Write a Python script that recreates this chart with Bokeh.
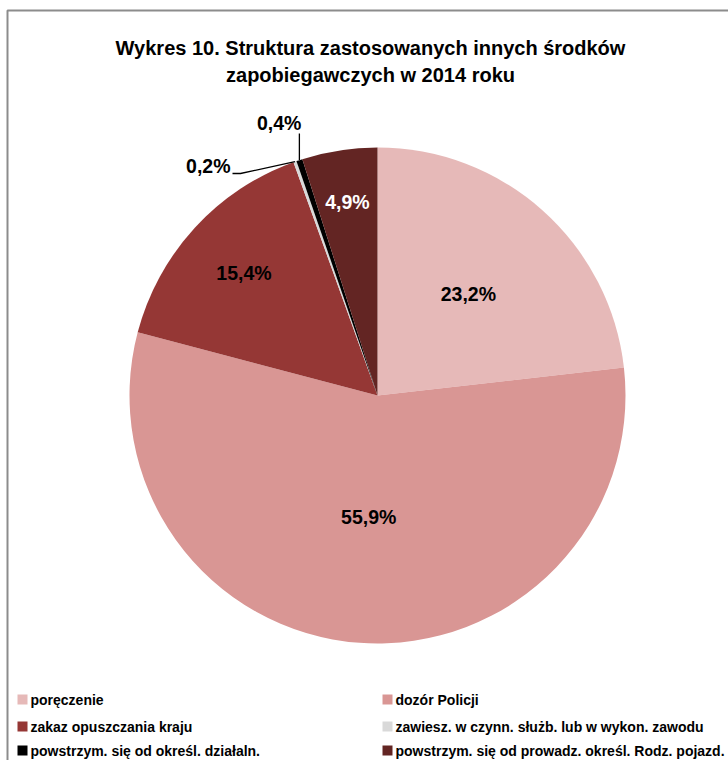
import math
from bokeh.plotting import figure
from bokeh.models import Range1d
from bokeh.core.properties import value
from bokeh.embed import file_html
from bokeh.resources import INLINE

# ---- data ----
categories = [
    "poręczenie",
    "dozór Policji",
    "zakaz opuszczania kraju",
    "zawiesz. w czynn. służb. lub w wykon. zawodu",
    "powstrzym. się od określ. działaln.",
    "powstrzym. się od prowadz. określ. Rodz. pojazd.",
]
shares = [23.2, 55.9, 15.4, 0.2, 0.4, 4.9]
share_labels = ["23,2%", "55,9%", "15,4%", "0,2%", "0,4%", "4,9%"]
title_lines = ["Wykres 10. Struktura zastosowanych innych środków",
               "zapobiegawczych w 2014 roku"]

# ---- style ----
colors = ["#E6B9B8", "#D99694", "#953735", "#D9D9D9", "#000000", "#632523"]
label_colors = ["black", "black", "black", "black", "black", "white"]
label_rfrac = [0.55, 0.49, 0.73, None, None, 0.79]
FONT = "Liberation Sans"

W, H = 728, 760
def sx(x):  # reference x -> data x
    return x
def sy(y):  # reference y -> data y
    return H - y

p = figure(width=W, height=H, output_backend="svg", toolbar_location=None,
           x_range=Range1d(0, W), y_range=Range1d(0, H), min_border=0)
p.axis.visible = False
p.grid.visible = False
p.outline_line_color = None
p.background_fill_color = "white"

# frame
p.line([sx(7), sx(7), sx(760)], [sy(800), sy(10), sy(10)], line_color="#8C8C8C", line_width=2)

cx, cy, R = sx(377), sy(395), 248
total = sum(shares)
starts, ends, mids = [], [], []
cum = 0.0
for s in shares:
    a0 = math.pi / 2 - 2 * math.pi * cum / total
    cum += s
    a1 = math.pi / 2 - 2 * math.pi * cum / total
    starts.append(a0)
    ends.append(a1)
    mids.append((a0 + a1) / 2)

p.wedge(x=[cx] * len(shares), y=[cy] * len(shares), radius=R,
        start_angle=starts, end_angle=ends, direction="clock",
        fill_color=colors, line_color=None)

LBL = "19.5px"
# inside labels
lx, ly, lt, lc = [], [], [], []
for i, f in enumerate(label_rfrac):
    if f is None:
        continue
    lx.append(cx + f * R * math.cos(mids[i]))
    ly.append(cy + f * R * math.sin(mids[i]))
    lt.append(share_labels[i])
    lc.append(label_colors[i])
p.text(x=lx, y=ly, text=lt, text_color=lc, text_font=value(FONT),
       text_font_style="bold", text_font_size=LBL,
       text_align="center", text_baseline="middle")

# small slices with leader lines
# 0,2%
i = 3
ex, ey = cx + R * math.cos(mids[i]), cy + R * math.sin(mids[i])
p.line([ex, sx(240), sx(232)], [ey, sy(173), sy(173)], line_color="black", line_width=1.3)
p.text(x=[sx(230)], y=[sy(165)], text=[share_labels[i]], text_font=value(FONT),
       text_font_style="bold", text_font_size=LBL, text_align="right",
       text_baseline="middle")
# 0,4%
i = 4
ex, ey = cx + R * math.cos(mids[i]), cy + R * math.sin(mids[i])
p.line([ex, ex], [ey, sy(133)], line_color="black", line_width=1.3)
p.text(x=[ex + 2], y=[sy(122)], text=[share_labels[i]], text_font=value(FONT),
       text_font_style="bold", text_font_size=LBL, text_align="right",
       text_baseline="middle")

# title
p.text(x=[sx(370)] * 2, y=[sy(47), sy(74)], text=title_lines, text_font=value(FONT),
       text_font_style="bold", text_font_size="20px", text_align="center",
       text_baseline="middle")

# legend
leg_x0 = [sx(22), sx(387)]
leg_y = [sy(699), sy(726), sy(750)]
mx, my, tx = [], [], []
for i, c in enumerate(categories):
    col, row = i % 2, i // 2
    mx.append(leg_x0[col])
    my.append(leg_y[row])
    tx.append(leg_x0[col] + 8)
p.scatter(x=mx, y=my, marker="square", size=10, fill_color=colors, line_color=None)
p.text(x=tx, y=my, text=categories, text_font=value(FONT), text_font_style="bold",
       text_font_size="14px", text_align="left", text_baseline="middle")

open("out.html", "w").write(file_html(p, INLINE))
